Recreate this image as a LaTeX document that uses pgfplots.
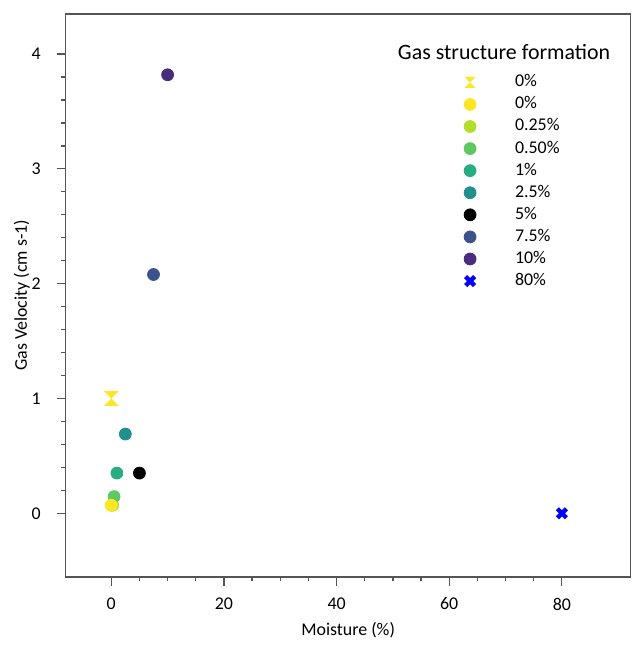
\documentclass[border=0pt]{standalone}
\usepackage{pgfplots}
\pgfplotsset{compat=1.18}
\usepackage{fontspec}
\setmainfont{Carlito}

\definecolor{vYel}{HTML}{FDE725}
\definecolor{vLime}{HTML}{B5DE2B}
\definecolor{vGreen}{HTML}{5EC962}
\definecolor{vTeal}{HTML}{27AD81}
\definecolor{vCyan}{HTML}{21908C}
\definecolor{vBlue}{HTML}{3B528B}
\definecolor{vPurp}{HTML}{472D7B}
\definecolor{axgray}{HTML}{555555}

% hourglass marker: two triangles meeting at the centre
\pgfdeclareplotmark{hourglass}{%
  \pgfpathmoveto{\pgfqpoint{-\pgfplotmarksize}{\pgfplotmarksize}}%
  \pgfpathlineto{\pgfqpoint{\pgfplotmarksize}{\pgfplotmarksize}}%
  \pgfpathlineto{\pgfqpoint{-\pgfplotmarksize}{-\pgfplotmarksize}}%
  \pgfpathlineto{\pgfqpoint{\pgfplotmarksize}{-\pgfplotmarksize}}%
  \pgfpathclose
  \pgfusepathqfill}

% legend image: mark centred in a 41pt wide box
\pgfplotsset{lgd/.style={legend image code/.code={%
  \path (0pt,0pt) (41pt,0pt);
  \draw[mark repeat=2,mark phase=2,##1,#1] plot coordinates {(0pt,0pt)(20.5pt,0pt)(41pt,0pt)};}},
  lgd/.default={}}

\begin{document}
\begin{tikzpicture}
\begin{axis}[
  scale only axis,
  width=284pt, height=283pt,
  xmin=-8.1, xmax=92.2,
  ymin=-0.554, ymax=4.35,
  xtick={0,20,40,60,80},
  ytick={0,1,2,3,4},
  minor x tick num=3,
  minor y tick num=4,
  tick align=outside,
  tick pos=left,
  major tick length=4.5pt,
  minor tick length=2.2pt,
  axis line style={axgray, line width=0.7pt},
  every tick/.style={axgray, line width=0.6pt},
  tick label style={font=\fontsize{9}{11}\selectfont},
  xticklabel style={yshift=-2.5pt},
  yticklabel style={xshift=-4.5pt},
  /pgf/number format/assume math mode=true,
  xlabel={Moisture (\%)},
  ylabel={Gas Velocity (cm s-1)},
  label style={font=\fontsize{9}{11}\selectfont},
  xlabel style={at={(axis description cs:0.5,-0.0954)}, anchor=center},
  ylabel style={at={(axis description cs:-0.0775,0.5)}, anchor=center},
  legend cell align=left,
  legend style={at={(rel axis cs:0.6391,0.8977)}, anchor=north west,
    draw=none, fill=none, inner sep=0pt,
    font=\fontsize{9}{11}\selectfont,
    nodes={inner sep=1pt, text height=6.5pt, text depth=2pt},
    row sep=0.6pt,
    /tikz/every even column/.append style={column sep=0pt}},
  mark size=3pt,
]
\addplot[only marks, mark=hourglass, mark size=3.7pt, color=vYel, lgd={mark size=2.8pt}] coordinates {(0,1.0)};
\addplot[only marks, lgd, mark=*, color=vYel] coordinates {(0,0.07)};
\addplot[only marks, lgd, mark=*, color=vLime] coordinates {(0.25,0.07)};
\addplot[only marks, lgd, mark=*, color=vGreen] coordinates {(0.5,0.145)};
\addplot[only marks, lgd, mark=*, color=vTeal] coordinates {(1,0.35)};
\addplot[only marks, lgd, mark=*, color=vCyan] coordinates {(2.5,0.69)};
\addplot[only marks, lgd, mark=*, color=black] coordinates {(5,0.35)};
\addplot[only marks, lgd, mark=*, color=vBlue] coordinates {(7.5,2.08)};
\addplot[only marks, lgd, mark=*, color=vPurp] coordinates {(10,3.82)};
\addplot[only marks, lgd, mark=x, mark size=3.2pt, color=blue, line width=2.2pt] coordinates {(80,0)};
% redraw 0% circle on top, as in the original
\addplot[only marks, mark=*, color=vYel, forget plot] coordinates {(0,0.07)};
\legend{0\%, 0\%, 0.25\%, 0.50\%, 1\%, 2.5\%, 5\%, 7.5\%, 10\%, 80\%}
\node[font=\fontsize{11}{13}\selectfont] at (rel axis cs:0.776,0.933) {Gas structure formation};
\end{axis}
% white margins around the frame, as in the original
\path ([shift={(-33pt,-32.5pt)}]current axis.south west) ([shift={(1pt,7pt)}]current axis.north east);
\end{tikzpicture}
\end{document}
